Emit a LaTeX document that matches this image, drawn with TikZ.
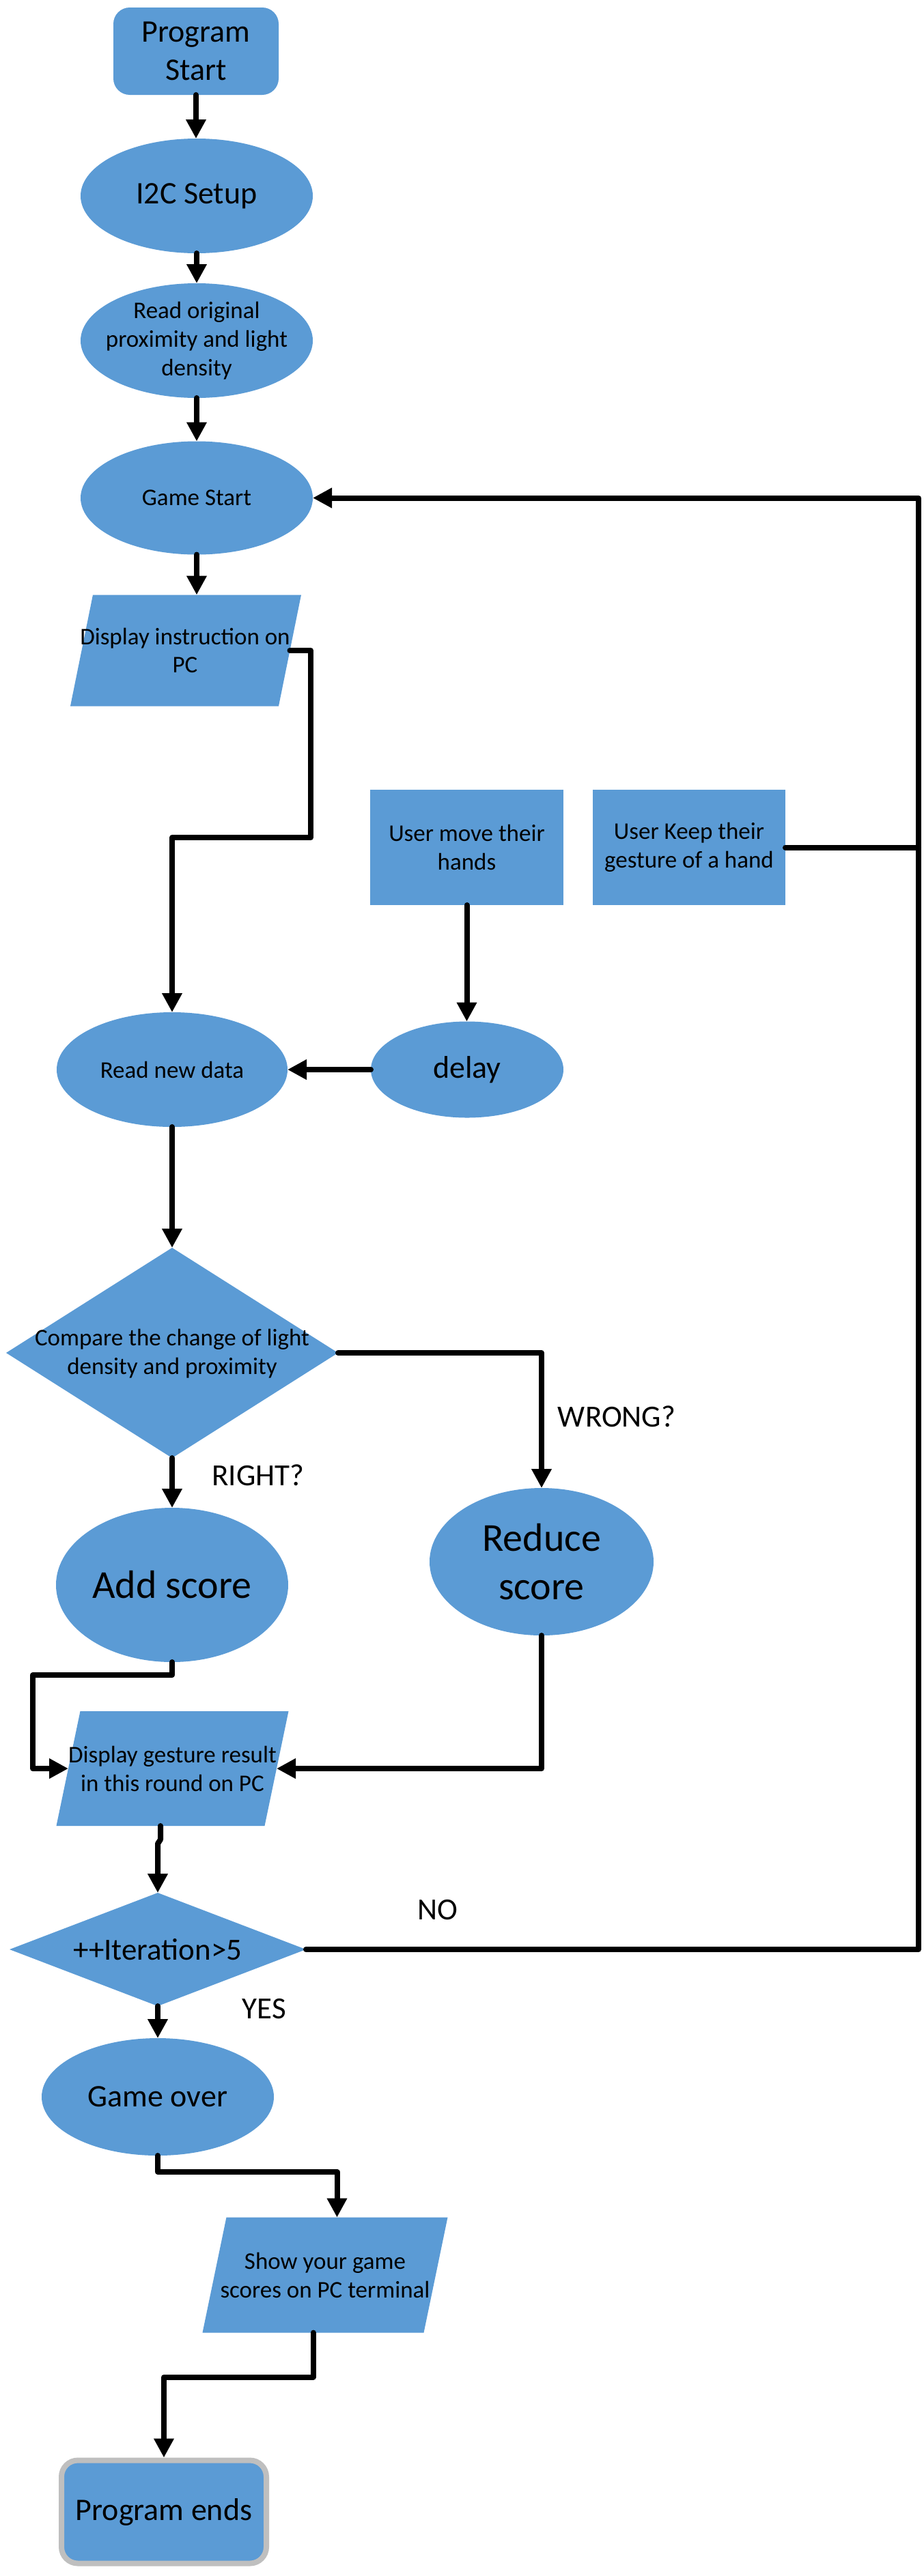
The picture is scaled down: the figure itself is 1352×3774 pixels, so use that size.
\documentclass[tikz,border=0pt]{standalone}
\usepackage{fontspec}
\setmainfont{Carlito}
\usetikzlibrary{shapes.geometric, arrows.meta}
\definecolor{boxblue}{HTML}{5B9BD5}
\definecolor{endgray}{HTML}{BFBFBF}
\tikzset{
  shp/.style={fill=boxblue, draw=none, inner sep=0pt, outer sep=0pt},
  elli/.style={shp, ellipse},
  sbox/.style={shp, rectangle},
  rbox/.style={shp, rectangle, rounded corners=24pt},
  diam/.style={shp, diamond},
  pframe/.style={rectangle, draw=none, fill=none, inner sep=0pt, outer sep=0pt},
  txt/.style={inner sep=0pt, align=center, text=black},
  fs/.style={txt, font=\fontsize{35}{42}\selectfont},
  fm/.style={txt, font=\fontsize{46}{56}\selectfont},
  fl/.style={txt, font=\fontsize{58}{71}\selectfont},
  lab/.style={txt, font=\fontsize{45}{54}\selectfont},
  conn/.style={line width=8pt, line cap=round, line join=round, draw=black},
  arr/.style={conn, -{Triangle[width=28pt,length=28pt]}},
}
\begin{document}
\begin{tikzpicture}[x=1pt, y=-1pt]
\fill[white] (0,0) rectangle (1352,3774);
\useasboundingbox (0,0) rectangle (1352,3774);

% --- shapes ---
\node[rbox, minimum width=242, minimum height=128] (start) at (287,75) {};
\node[fm] (start-t) at (start) {Program\\Start};

\node[elli, minimum width=340, minimum height=168] (i2c) at (288,287) {};
\node[fm] (i2c-t) at (i2c) {I2C Setup};

\node[elli, minimum width=340, minimum height=168] (readorig) at (288,499) {};
\node[fs] (readorig-t) at (readorig) {Read original\\proximity and light\\density};

\node[elli, minimum width=340, minimum height=166] (gamestart) at (288,729.5) {};
\node[fs] (gamestart-t) at (gamestart) {Game Start};

\node[pframe, minimum width=305, minimum height=163] (dispinst) at (272,953) {};
\fill[boxblue] ([xshift=16.5pt]dispinst.north west) -- ([xshift=16.5pt]dispinst.north east)
  -- ([xshift=-16.5pt]dispinst.south east) -- ([xshift=-16.5pt]dispinst.south west) -- cycle;
\node[fs, font=\fontsize{35}{41}\selectfont] (dispinst-t) at (271,953) {Display instruction on\\PC};

\node[sbox, minimum width=283, minimum height=169] (usermove) at (683.5,1241.5) {};
\node[fs] (usermove-t) at (usermove) {User move their\\hands};

\node[sbox, minimum width=282, minimum height=169] (userkeep) at (1009,1241.5) {};
\node[fs] (userkeep-t) at (userkeep) {User Keep their\\gesture of a hand};

\node[elli, minimum width=338, minimum height=168] (readnew) at (252,1567) {};
\node[fs] (readnew-t) at (readnew) {Read new data};

\node[elli, minimum width=282, minimum height=141] (delay) at (684,1567) {};
\node[fm] (delay-t) at (delay) {delay};

\node[diam, minimum width=486, minimum height=308] (compare) at (252,1982) {};
\node[fs] (compare-t) at (252,1983) {Compare the change of light\\density and proximity};

\node[elli, minimum width=340, minimum height=226] (addscore) at (252,2322) {};
\node[fl] (addscore-t) at (addscore) {Add score};

\node[elli, minimum width=328, minimum height=216] (reduce) at (793,2288) {};
\node[fl] (reduce-t) at (reduce) {Reduce\\score};

\node[pframe, minimum width=305, minimum height=168] (dispgest) at (252.5,2591) {};
\fill[boxblue] ([xshift=17.5pt]dispgest.north west) -- ([xshift=17.5pt]dispgest.north east)
  -- ([xshift=-17.5pt]dispgest.south east) -- ([xshift=-17.5pt]dispgest.south west) -- cycle;
\node[fs] (dispgest-t) at (dispgest) {Display gesture result\\in this round on PC};

\node[diam, minimum width=434, minimum height=166] (iter) at (231,2856) {};
\node[lab] (iter-t) at (iter) {++Iteration>5};

\node[elli, minimum width=340, minimum height=172] (gameover) at (231,3072) {};
\node[fm] (gameover-t) at (gameover) {Game over};

\node[pframe, minimum width=324, minimum height=169] (show) at (476,3333) {};
\fill[boxblue] ([xshift=17.5pt]show.north west) -- ([xshift=17.5pt]show.north east)
  -- ([xshift=-17.5pt]show.south east) -- ([xshift=-17.5pt]show.south west) -- cycle;
\node[fs] (show-t) at (show) {Show your game\\scores on PC terminal};

\node[rbox, draw=endgray, line width=8pt, minimum width=300, minimum height=151] (end) at (240,3680) {};
\node[fm] (end-t) at (end) {Program ends};

% --- labels ---
\node[lab] (right-l) at (378,2161) {RIGHT?};
\node[lab] (wrong-l) at (903,2075) {WRONG?};
\node[lab] (no-l) at (641,2798) {NO};
\node[lab] (yes-l) at (387,2943) {YES};

% --- connectors ---
\draw[arr] (start.south) -- (start.south |- i2c.north);
\draw[arr] (i2c.south) -- (readorig.north);
\draw[arr] (readorig.south) -- (gamestart.north);
\draw[arr] (gamestart.south) -- (gamestart.south |- dispinst.north);
\draw[arr] (dispinst.east) -- (455,953) |- (252,1227) -| (readnew.north);
\draw[arr] (usermove.south) -- (usermove.south |- delay.north);
\draw[arr] (delay.west) -- (readnew.east);
\draw[conn] (userkeep.east) -- (1345,1241.5);
\draw[arr] (readnew.south) -- (compare.north);
\draw[arr] (compare.east) -| (reduce.north);
\draw[arr] (compare.south) -- (addscore.north);
\draw[arr] (addscore.south) -- ++(0,19) -| (48,2591) -- (dispgest.west);
\draw[arr] (reduce.south) |- (dispgest.east);
\draw[arr] ([xshift=-17.5pt]dispgest.south) -- ++(0,20) -- ++(-4,6) -- (iter.north);
\draw[arr] (iter.east) -| (1345,1000) |- (gamestart.east);
\draw[arr] (iter.south) -- (gameover.north);
\draw[arr] (gameover.south) -- ++(0,24) -| ([xshift=17.5pt]show.north);
\draw[arr, shorten >=4pt] ([xshift=-17.5pt]show.south) -- ++(0,65) -| (end.north);
\end{tikzpicture}
\end{document}
